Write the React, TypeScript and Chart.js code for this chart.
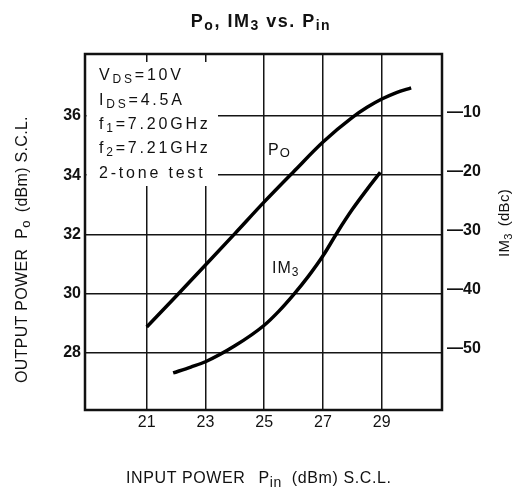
import React, { useEffect, useRef } from 'react';
import { Chart, registerables } from 'chart.js';

Chart.register(...registerables);

const FONT = '"Liberation Sans", Arial, Helvetica, sans-serif';

// Input power (dBm) for the output-power curve and its values (dBm)
const poPin = [21, 22, 23, 24, 25, 26, 27, 28, 28.5, 29, 29.5, 30];
const poValues = [28.88, 29.92, 30.97, 32.03, 33.1, 34.12, 35.12, 35.95, 36.29, 36.57, 36.79, 36.95];

// Input power (dBm) for the IM3 curve and its values (dBc)
const im3Pin = [21.9, 22.5, 23, 24, 25, 25.5, 26, 26.5, 27, 27.5, 28, 28.5, 28.95];
const im3Values = [-54.2, -53.2, -52.3, -49.6, -46.1, -43.7, -40.9, -37.8, -34.3, -30.2, -26.4, -23.0, -20.1];

// Tick labels
const xTicks = [21, 23, 25, 27, 29];
const poTicks = [28, 30, 32, 34, 36];
const im3Ticks = [-10, -20, -30, -40, -50];

// Condition notes
const notes = [
  [{ t: 'V' }, { t: 'DS', sub: true }, { t: '=10V' }],
  [{ t: 'I' }, { t: 'DS', sub: true }, { t: '=4.5A' }],
  [{ t: 'f' }, { t: '1', sub: true }, { t: '=7.20GHz' }],
  [{ t: 'f' }, { t: '2', sub: true }, { t: '=7.21GHz' }],
  [{ t: '2-tone test' }],
];

type Seg = { t?: string; sub?: boolean; gap?: number };
type Style = { size: number; subSize: number; subDy: number; weight: string; spacing: number };

function drawRich(
  ctx: CanvasRenderingContext2D,
  segs: Seg[],
  x: number,
  y: number,
  st: Style,
  align: 'left' | 'center',
  angle = 0
) {
  ctx.save();
  ctx.translate(x, y);
  ctx.rotate(angle);
  ctx.textBaseline = 'alphabetic';
  ctx.textAlign = 'left';
  ctx.fillStyle = '#111';
  (ctx as any).letterSpacing = st.spacing + 'px';
  const fontFor = (sub?: boolean) => `${st.weight} ${sub ? st.subSize : st.size}px ${FONT}`;
  const widths = segs.map((s) => {
    if (s.gap !== undefined) return s.gap;
    ctx.font = fontFor(s.sub);
    return ctx.measureText(s.t || '').width;
  });
  const total = widths.reduce((a, b) => a + b, 0);
  let cx = align === 'center' ? -total / 2 : 0;
  segs.forEach((s, i) => {
    if (s.t) {
      ctx.font = fontFor(s.sub);
      ctx.fillText(s.t, cx, s.sub ? st.subDy : 0);
    }
    cx += widths[i];
  });
  ctx.restore();
}

const decorPlugin = {
  id: 'decor',
  beforeDatasetsDraw(chart: any) {
    const ctx: CanvasRenderingContext2D = chart.ctx;
    const a = chart.chartArea;
    // white note box over the grid
    ctx.save();
    ctx.fillStyle = '#fff';
    ctx.fillRect(a.left + 1.5, a.top + 8, 218 - a.left - 1.5, 186 - a.top - 8);
    ctx.restore();
    const st: Style = { size: 16, subSize: 12, subDy: 3, weight: 'normal', spacing: 2.8 };
    const baselines = [80, 105, 129, 153, 178];
    notes.forEach((line, i) => drawRich(ctx, line, 99, baselines[i], st, 'left'));
  },
  afterDraw(chart: any) {
    const ctx: CanvasRenderingContext2D = chart.ctx;
    const a = chart.chartArea;
    ctx.save();
    ctx.strokeStyle = '#111';
    ctx.lineWidth = 2.5;
    ctx.strokeRect(a.left, a.top, a.right - a.left, a.bottom - a.top);
    ctx.restore();

    // Title
    drawRich(
      ctx,
      [{ t: 'P' }, { t: 'o', sub: true }, { t: ', IM' }, { t: '3', sub: true }, { t: ' vs. P' }, { t: 'in', sub: true }],
      261,
      27,
      { size: 18, subSize: 14, subDy: 2.5, weight: 'bold', spacing: 1.5 },
      'center'
    );
    // X axis title
    drawRich(
      ctx,
      [{ t: 'INPUT POWER' }, { gap: 13 }, { t: 'P' }, { t: 'in', sub: true }, { gap: 10 }, { t: '(dBm) S.C.L.' }],
      126,
      483,
      { size: 16, subSize: 14, subDy: 4, weight: 'normal', spacing: 0.6 },
      'left'
    );
    // Left axis title
    drawRich(
      ctx,
      [{ t: 'OUTPUT POWER' }, { gap: 10 }, { t: 'P' }, { t: 'o', sub: true }, { gap: 8 }, { t: '(dBm) S.C.L.' }],
      27,
      383,
      { size: 16, subSize: 13, subDy: 3, weight: 'normal', spacing: 0.3 },
      'left',
      -Math.PI / 2
    );
    // Right axis title
    drawRich(
      ctx,
      [{ t: 'IM' }, { t: '3', sub: true }, { gap: 7 }, { t: '(dBc)' }],
      509,
      257,
      { size: 15, subSize: 11, subDy: 3, weight: 'normal', spacing: 0.3 },
      'left',
      -Math.PI / 2
    );
    // Curve labels
    drawRich(ctx, [{ t: 'P' }, { t: 'O', sub: true }], 268, 155,
      { size: 16, subSize: 13, subDy: 2, weight: 'normal', spacing: 1 }, 'left');
    drawRich(ctx, [{ t: 'IM' }, { t: '3', sub: true }], 272, 273,
      { size: 16, subSize: 12, subDy: 3, weight: 'normal', spacing: 1 }, 'left');
  },
};

export default function App() {
  const ref = useRef<HTMLCanvasElement>(null);
  useEffect(() => {
    if (!ref.current) return;
    const gridStyle = { color: '#151515', lineWidth: 1.5, drawTicks: false };
    const chart = new Chart(ref.current, {
      type: 'line',
      data: {
        datasets: [
          {
            label: 'Po',
            data: poPin.map((x, i) => ({ x, y: poValues[i] })),
            yAxisID: 'y',
            borderColor: '#000',
            borderWidth: 3.5,
            pointRadius: 0,
            cubicInterpolationMode: 'monotone',
            fill: false,
          },
          {
            label: 'IM3',
            data: im3Pin.map((x, i) => ({ x, y: im3Values[i] })),
            yAxisID: 'y1',
            borderColor: '#000',
            borderWidth: 3.5,
            pointRadius: 0,
            cubicInterpolationMode: 'monotone',
            fill: false,
          },
        ],
      },
      options: {
        animation: false,
        responsive: false,
        events: [],
        layout: { padding: { top: 54, left: 0, right: 0, bottom: 0 } },
        plugins: { legend: { display: false }, title: { display: false }, tooltip: { enabled: false } },
        scales: {
          x: {
            type: 'linear',
            min: 18.9,
            max: 31.05,
            afterBuildTicks: (s: any) => {
              s.ticks = xTicks.map((v) => ({ value: v }));
            },
            afterFit: (s: any) => {
              s.height = 77;
            },
            grid: gridStyle,
            border: { display: false },
            ticks: {
              autoSkip: false,
              maxRotation: 0,
              padding: 3,
              color: '#111',
              font: { family: FONT, size: 16 },
              callback: (v: any) => String(v),
            },
          },
          y: {
            position: 'left',
            min: 26.08,
            max: 38.09,
            afterBuildTicks: (s: any) => {
              s.ticks = poTicks.map((v) => ({ value: v }));
            },
            afterFit: (s: any) => {
              s.width = 85;
            },
            grid: gridStyle,
            border: { display: false },
            ticks: {
              autoSkip: false,
              padding: 4,
              color: '#111',
              font: { family: FONT, size: 16, weight: 'bold' },
              callback: (v: any) => String(v),
            },
          },
          y1: {
            position: 'right',
            min: -60.5,
            max: 0,
            afterBuildTicks: (s: any) => {
              s.ticks = im3Ticks.map((v) => ({ value: v }));
            },
            afterFit: (s: any) => {
              s.width = 81;
            },
            grid: { drawOnChartArea: false, drawTicks: false },
            border: { display: false },
            ticks: {
              autoSkip: false,
              padding: 5,
              color: '#111',
              font: { family: FONT, size: 16, weight: 'bold' },
              callback: (v: any) => '\u2014' + Math.abs(Number(v)),
            },
          },
        },
      },
      plugins: [decorPlugin],
    } as any);
    return () => chart.destroy();
  }, []);
  return (
    <div style={{ position: 'absolute', left: 0, top: 0, width: 523, height: 487, background: '#fff' }}>
      <canvas ref={ref} width={523} height={487} style={{ display: 'block' }} />
    </div>
  );
}
